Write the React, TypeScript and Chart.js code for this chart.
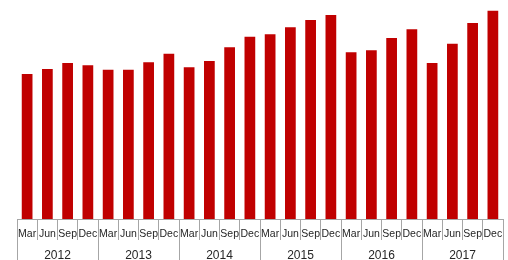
import React, { useEffect, useRef } from "react";
import { Chart, registerables } from "chart.js";

Chart.register(...registerables);

const months = ["Mar", "Jun", "Sep", "Dec"];
const years = ["2012", "2013", "2014", "2015", "2016", "2017"];
const quarterLabels = years.flatMap(() => months);
const values = [
  145, 150, 156, 153.7,
  149.3, 149.3, 156.7, 165.3,
  151.7, 158, 171.7, 182.3,
  184.7, 191.7, 199, 204,
  166.7, 168.7, 181, 189.7,
  156, 175.3, 196, 208.3,
];

export default function App() {
  const ref = useRef<HTMLCanvasElement | null>(null);
  useEffect(() => {
    if (!ref.current) return;
    const lineColor = "#a6a6a6";
    const textColor = "#262626";
    const chart = new Chart(ref.current, {
      type: "bar",
      data: {
        labels: quarterLabels,
        datasets: [
          {
            data: values,
            backgroundColor: "#C00000",
            borderWidth: 0,
            categoryPercentage: 1,
            barPercentage: 0.53,
            xAxisID: "x",
          },
        ],
      },
      options: {
        animation: false,
        responsive: false,
        layout: { padding: { left: 17, right: 5, top: 0, bottom: 0 } },
        plugins: { legend: { display: false }, tooltip: { enabled: false } },
        scales: {
          y: { display: false, min: 0, max: 219 },
          x: {
            position: "bottom",
            weight: 0,
            offset: true,
            grid: {
              offset: true,
              drawOnChartArea: false,
              drawTicks: true,
              tickLength: 21,
              color: lineColor,
            },
            border: { display: true, color: lineColor },
            ticks: {
              autoSkip: false,
              maxRotation: 0,
              padding: -12,
              color: textColor,
              font: { family: "'Liberation Sans Narrow', 'Liberation Sans', sans-serif", size: 10.5 },
            },
            afterFit: (s: any) => {
              s.height = 21;
            },
          },
          x2: {
            type: "category",
            labels: years,
            position: "bottom",
            weight: 1,
            offset: true,
            grid: {
              offset: true,
              drawOnChartArea: false,
              drawTicks: true,
              tickLength: 20,
              color: lineColor,
            },
            border: { display: false },
            ticks: {
              autoSkip: false,
              maxRotation: 0,
              padding: -12,
              color: textColor,
              font: { family: "'Liberation Sans Narrow', 'Liberation Sans', sans-serif", size: 12 },
            },
            afterFit: (s: any) => {
              s.height = 20;
            },
          },
        },
      },
    });
    return () => chart.destroy();
  }, []);
  return (
    <div style={{ position: "absolute", left: 0, top: 0, width: 508, height: 260, background: "#fff" }}>
      <canvas ref={ref} width={508} height={260} style={{ display: "block" }} />
    </div>
  );
}
